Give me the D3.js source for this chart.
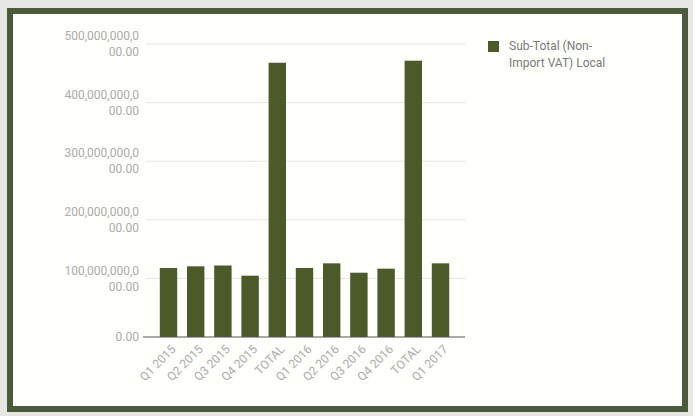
<!DOCTYPE html>
<meta charset="utf-8">
<script src="https://d3js.org/d3.v7.min.js"></script>
<style>
    body { margin: 0; background: #e6e6e3; font-family: Roboto, "Open Sans", sans-serif; }
</style>
<div id="my_dataviz"></div>
<script>
    // data
    var categories = ["Q1 2015", "Q2 2015", "Q3 2015", "Q4 2015", "TOTAL", "Q1 2016", "Q2 2016", "Q3 2016", "Q4 2016", "TOTAL ", "Q1 2017"]
    var values = [117.7e9, 120.6e9, 122.0e9, 104.6e9, 468.0e9, 117.7e9, 125.7e9, 109.7e9, 116.6e9, 471.5e9, 125.7e9]
    var yTicks = [0, 100e9, 200e9, 300e9, 400e9, 500e9]
    var seriesName = ["Sub-Total (Non-", "Import VAT) Local"]

    var W = 693, H = 416
    var barColor = "#4c5a29"

    var svg = d3.select("#my_dataviz")
        .append("svg")
        .attr("width", W)
        .attr("height", H)

    // frame
    svg.append("rect")
        .attr("x", 10).attr("y", 11)
        .attr("width", 675).attr("height", 398)
        .style("fill", "#fffffc")
        .style("stroke", "#4a5a3b")
        .style("stroke-width", 6)

    var x = d3.scaleBand()
        .domain(categories)
        .range([150, 459])
        .padding(0.36)

    var y = d3.scaleLinear()
        .domain([0, 500e9])
        .range([337, 44])

    // gridlines
    svg.append("g")
        .selectAll("line")
        .data(yTicks.slice(1))
        .enter()
        .append("line")
        .attr("x1", 146).attr("x2", 465)
        .attr("y1", function(d) { return y(d) })
        .attr("y2", function(d) { return y(d) })
        .style("stroke", "#e6e6e6")
        .style("stroke-width", 1)

    // y labels, wrapped in two lines like the original
    var fmt = d3.format(",.2f")
    var yl = svg.append("g")
        .selectAll("text")
        .data(yTicks)
        .enter()
        .append("text")
        .attr("text-anchor", "end")
        .style("font-size", "12px")
        .style("fill", "#ababab")
    yl.each(function(d) {
        var s = fmt(d)
        var t = d3.select(this)
        if (s.length > 13) {
            t.append("tspan").attr("x", 139).attr("y", y(d) - 8).attr("dy", "0.35em").text(s.slice(0, 13))
            t.append("tspan").attr("x", 139).attr("y", y(d) + 8).attr("dy", "0.35em").text(s.slice(13))
        } else {
            t.append("tspan").attr("x", 139).attr("y", y(d)).attr("dy", "0.35em").text(s)
        }
    })

    // bars
    svg.append("g")
        .selectAll("rect")
        .data(values)
        .enter()
        .append("rect")
        .attr("x", function(d, i) { return x(categories[i]) })
        .attr("y", function(d) { return y(d) })
        .attr("width", x.bandwidth())
        .attr("height", function(d) { return y(0) - y(d) })
        .style("fill", barColor)

    // baseline
    svg.append("line")
        .attr("x1", 143).attr("x2", 465)
        .attr("y1", y(0)).attr("y2", y(0))
        .style("stroke", "#555")
        .style("stroke-width", 1)

    // x labels
    svg.append("g")
        .selectAll("text")
        .data(categories)
        .enter()
        .append("text")
        .attr("transform", function(d) {
            return "translate(" + (x(d) + x.bandwidth() / 2 + 5) + "," + (y(0) + 10) + ") rotate(-45)"
        })
        .attr("text-anchor", "end")
        .attr("dy", "0.35em")
        .style("font-size", "12px")
        .style("fill", "#ababab")
        .text(function(d) { return d.trim() })

    // legend
    svg.append("rect")
        .attr("x", 488).attr("y", 41)
        .attr("width", 11).attr("height", 11)
        .style("fill", barColor)
    svg.append("g")
        .selectAll("text")
        .data(seriesName)
        .enter()
        .append("text")
        .attr("x", 509)
        .attr("y", function(d, i) { return 46 + i * 17 })
        .attr("dy", "0.35em")
        .style("font-size", "12px")
        .style("fill", "#7a7a7a")
        .text(function(d) { return d })
</script>
